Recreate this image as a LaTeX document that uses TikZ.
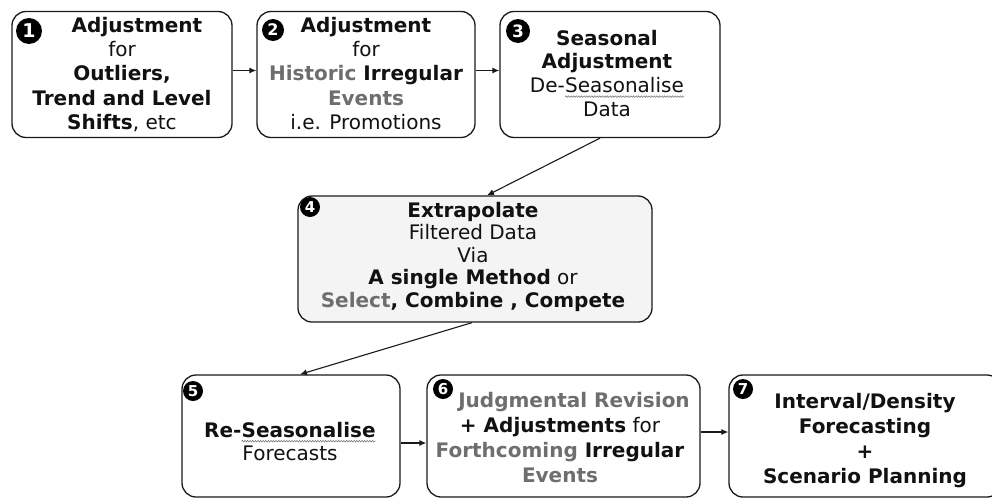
\documentclass[tikz,border=0pt]{standalone}
\usepackage{fontspec}
\setmainfont{DejaVu Sans}
\usetikzlibrary{arrows.meta,decorations.pathmorphing}
\definecolor{txtgray}{HTML}{6E6E6E}
\definecolor{txtblack}{HTML}{111111}
\definecolor{boxline}{HTML}{1A1A1A}
\definecolor{fillgray}{HTML}{F4F4F4}
\newcommand{\gr}[1]{\textcolor{txtgray}{#1}}
\newcommand{\fstrut}{\rule{0pt}{16pt}}
\newcommand{\squig}[2]{\tikz[baseline=(#1.base)]{\node[inner sep=0pt,outer sep=0pt](#1){#2};\draw[squigline] ([yshift=-4pt]#1.base west) -- ([yshift=-4pt]#1.base east);}}
\tikzset{
 stagebox/.style={draw=boxline, line width=1.3pt, rounded corners=14pt, fill=white, inner sep=0pt},
 stagetext/.style={anchor=north, inner sep=0pt, align=center, text=txtblack},
 numdot/.style={circle, fill=black, text=white, inner sep=0pt},
 flow/.style={-{Latex[length=7pt,width=6pt]}, line width=1.1pt, draw=boxline},
 squigline/.style={draw=txtgray, line width=0.5pt, decorate, decoration={snake, amplitude=0.8pt, segment length=2.6pt}},
}
\begin{document}
\begin{tikzpicture}[x=1pt,y=-1pt]
\useasboundingbox (0,0) rectangle (992,498);
\clip (0,0) rectangle (992,498);
% boxes
\node[stagebox, minimum width=220pt, minimum height=126pt] (b1) at (122,74.5) {};
\node[stagebox, minimum width=218pt, minimum height=126pt] (b2) at (366,74.5) {};
\node[stagebox, minimum width=220pt, minimum height=126pt] (b3) at (610,74.5) {};
\node[stagebox, fill=fillgray, minimum width=354pt, minimum height=126pt] (b4) at (475,259) {};
\node[stagebox, minimum width=218pt, minimum height=122pt] (b5) at (291,436) {};
\node[stagebox, minimum width=273pt, minimum height=122pt] (b6) at (563.5,436) {};
\node[stagebox, minimum width=272pt, minimum height=122pt] (b7) at (865,436) {};
% connectors
\draw[flow] ([yshift=4pt]b1.east) -- ([yshift=4pt]b2.west);
\draw[flow] ([yshift=4pt]b2.east) -- ([yshift=4pt]b3.west);
\draw[flow] ([xshift=-10pt]b3.south) -- ([xshift=12pt]b4.north);
\draw[flow] ([xshift=-3pt]b4.south) -- ([xshift=9pt]b5.north);
\draw[flow] ([yshift=-7pt]b5.east) -- ([yshift=-7pt]b6.west);
\draw[flow] ([yshift=4pt]b6.east) -- ([yshift=4pt]b7.west);
% numbers
\node[numdot, minimum size=26pt, font=\bfseries\fontsize{19}{19}\selectfont] (n1) at (29,31) {1};
\node[numdot, minimum size=22pt, font=\bfseries\fontsize{16}{16}\selectfont] (n2) at (273,30) {2};
\node[numdot, minimum size=24pt, font=\bfseries\fontsize{17}{17}\selectfont] (n3) at (518,31) {3};
\node[numdot, minimum size=20pt, font=\bfseries\fontsize{15}{15}\selectfont] (n4) at (310,207) {4};
\node[numdot, minimum size=20pt, font=\bfseries\fontsize{15}{15}\selectfont] (n5) at (193,391) {5};
\node[numdot, minimum size=20pt, font=\bfseries\fontsize{15}{15}\selectfont] (n6) at (443,389) {6};
\node[numdot, minimum size=20pt, font=\bfseries\fontsize{15}{15}\selectfont] (n7) at (743,389) {7};
% texts
\node[stagetext, font=\fontsize{20}{24.3}\selectfont] (t1) at (122,16)
 {\fstrut\hspace*{30pt}\textbf{Adjustment}\\ for\\ \textbf{Outliers,}\\ \textbf{Trend and Level}\\ \textbf{Shifts}, etc};
\node[stagetext, font=\fontsize{20}{24.3}\selectfont] (t2) at (366,16)
 {\fstrut\textbf{Adjustment}\\ for\\ \textbf{\gr{Historic} Irregular}\\ \textbf{\gr{Events}}\\ i.e. Promotions};
\node[stagetext, font=\fontsize{20}{23.7}\selectfont] (t3) at (607,29)
 {\fstrut\textbf{Seasonal}\\ \textbf{Adjustment}\\ De-\squig{sq1}{Seasonalise}\\ Data};
\node[stagetext, font=\fontsize{20}{22.5}\selectfont] (t4) at (473,201)
 {\fstrut\textbf{Extrapolate}\\ Filtered Data\\ Via\\ \textbf{A single Method} or\\ \textbf{\gr{Select}, Combine , Compete}};
\node[stagetext, font=\fontsize{20}{23.5}\selectfont] (t5) at (290,421)
 {\fstrut\textbf{Re-\squig{sq2}{Seasonalise}}\\ Forecasts};
\node[stagetext, font=\fontsize{20}{25}\selectfont] (t6) at (560,391)
 {\fstrut\hspace*{28pt}\textbf{\gr{Judgmental Revision}}\\ \textbf{+ Adjustments} for\hspace*{26pt}\\ \textbf{\gr{Forthcoming} Irregular}\\ \textbf{\gr{Events}}};
\node[stagetext, font=\fontsize{20}{25}\selectfont] (t7) at (865,392)
 {\fstrut\textbf{Interval/Density}\\ \textbf{Forecasting}\\ \textbf{+}\\ \textbf{Scenario Planning}};
\end{tikzpicture}
\end{document}
